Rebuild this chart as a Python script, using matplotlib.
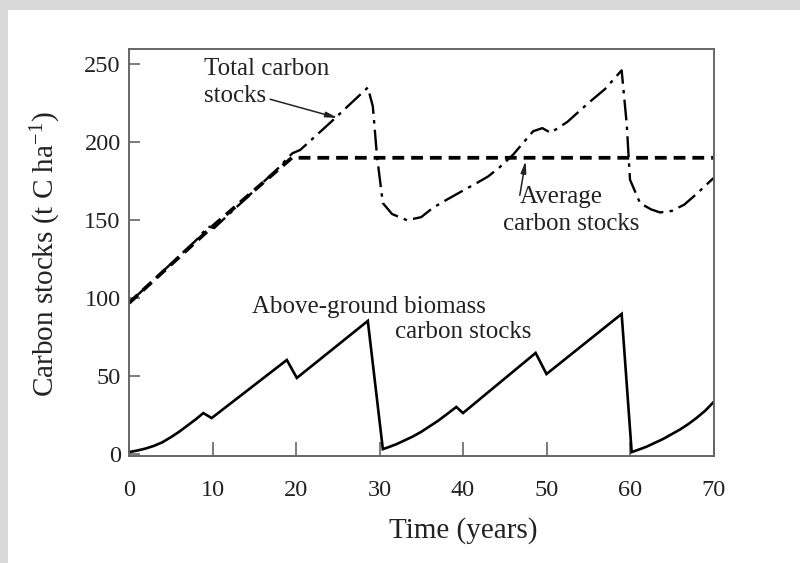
import matplotlib
matplotlib.use("Agg")
import matplotlib.pyplot as plt
from matplotlib.patches import Rectangle

# ---- data ----
bio_x = [0, 1, 2, 3, 4, 5, 6, 7, 8, 8.9, 9.9, 18.9, 20.1, 28.6, 30.4,
         31, 32, 33, 34, 35, 36, 37, 38, 39.2, 40, 48.7, 50, 59, 60.2,
         61, 62, 63, 64, 65, 66, 67, 68, 69, 70]
bio_y = [1.5, 2.5, 3.8, 5.5, 7.8, 11, 14.5, 18.5, 22.5, 26.5, 23.3, 60.5, 49, 85.5, 3.4,
         4.5, 6.5, 9, 11.5, 14.5, 18, 21.5, 25.5, 30.4, 26.5, 65, 51.5, 90, 1.5,
         3, 5, 7.5, 10, 13, 16, 19.5, 23.5, 28, 33.5]

tot_x = [0, 2, 4, 6, 8, 9.5, 10.2, 12, 14, 16, 18, 19, 19.6, 20.5, 24, 28.6,
         29.2, 29.7, 30.4, 31.5, 33.3, 35, 36.4, 38, 40, 41.7, 43, 44.4, 46,
         48.4, 49.5, 50.5, 52.5, 55, 57, 59, 59.6, 60, 61.2, 62.5, 63.6, 65,
         66.5, 68, 70]
tot_y = [97, 107, 117, 127, 137, 146, 145, 154, 164, 174, 184, 190, 193, 195, 212, 235,
         223, 191, 161, 154, 150, 152, 158, 163, 169, 174, 178, 184, 192,
         207, 209, 206, 213, 225, 234, 246, 212, 176, 161, 157, 155, 156,
         160, 167, 177]

avg_x = [0, 10, 19.5, 70]
avg_y = [97, 146, 190, 190]

x_ticks = [0, 10, 20, 30, 40, 50, 60, 70]
y_ticks = [0, 50, 100, 150, 200, 250]

# ---- style ----
plt.rcParams['font.family'] = ['Liberation Serif', 'DejaVu Serif']
plt.rcParams['mathtext.fontset'] = 'custom'
plt.rcParams['mathtext.rm'] = 'Liberation Serif'
plt.rcParams['mathtext.default'] = 'regular'
plt.rcParams['lines.scale_dashes'] = False

txt = '#222222'
frame = '#666666'

fig = plt.figure(figsize=(8, 5.63), dpi=100, facecolor='#d9d9d9')
bg = fig.add_axes([8 / 800, 0, 1 - 8 / 800, 1 - 10 / 563], zorder=-10)
bg.set_facecolor('white')
bg.set_axis_off()
bg.add_patch(Rectangle((0, 0), 1, 1, transform=bg.transAxes, facecolor='white', edgecolor='none'))

ax = fig.add_axes([129 / 800, 1 - 456 / 563, 584.5 / 800, (456 - 48.5) / 563], zorder=1)
ax.set_facecolor('white')

ax.plot(bio_x, bio_y, color='black', lw=1.9, solid_joinstyle='miter')
ax.plot(avg_x, avg_y, color='black', lw=2.7, dashes=(8.5, 5))
ax.plot(tot_x, tot_y, color='black', lw=1.7, dashes=(15, 4.5, 2.5, 4.5))

ax.set_xlim(0, 70)
ax.set_ylim(-1, 260)
ax.set_xticks(x_ticks)
ax.set_yticks(y_ticks)
ax.tick_params(axis='x', direction='in', length=10, width=1.2, color=frame,
               labelsize=17.5, labelcolor=txt, pad=17)
ax.tick_params(axis='y', direction='in', length=8, width=1.2, color=frame,
               labelsize=17.5, labelcolor=txt, pad=6)
for s in ax.spines.values():
    s.set_color(frame)
    s.set_linewidth(1.4)

ax.set_xlabel('Time (years)', fontsize=21, color=txt)
ax.xaxis.set_label_coords((463 - 129) / 584.5, -(531 - 456) / 407.5)
ax.xaxis.label.set_va('center')
ax.set_ylabel('Carbon stocks (t C ha$^{-1}$)', fontsize=21, color=txt)
ax.yaxis.set_label_coords(-(129 - 46) / 584.5, (456 - 254) / 407.5)
ax.yaxis.label.set_va('center')

fs = 18
ax.text(9.0, 243, 'Total carbon', fontsize=fs, color=txt, ha='left', va='baseline')
ax.text(9.0, 226, 'stocks', fontsize=fs, color=txt, ha='left', va='baseline')
ax.annotate('', xy=(25, 215.5), xytext=(16.9, 227.5),
            arrowprops=dict(arrowstyle='-|>,head_length=0.7,head_width=0.16',
                            color=txt, lw=1.1, shrinkA=0, shrinkB=0))

ax.text(46.8, 161, 'Average', fontsize=fs, color=txt, ha='left', va='baseline')
ax.text(44.8, 144, 'carbon stocks', fontsize=fs, color=txt, ha='left', va='baseline')
ax.annotate('', xy=(47.5, 188), xytext=(46.8, 166),
            arrowprops=dict(arrowstyle='-|>,head_length=0.7,head_width=0.16',
                            color=txt, lw=1.1, shrinkA=0, shrinkB=0))

ax.text(14.7, 90.5, 'Above-ground biomass', fontsize=fs, color=txt, ha='left', va='baseline')
ax.text(31.8, 74.5, 'carbon stocks', fontsize=fs, color=txt, ha='left', va='baseline')

fig.savefig('out.png', dpi=100, facecolor=fig.get_facecolor())
